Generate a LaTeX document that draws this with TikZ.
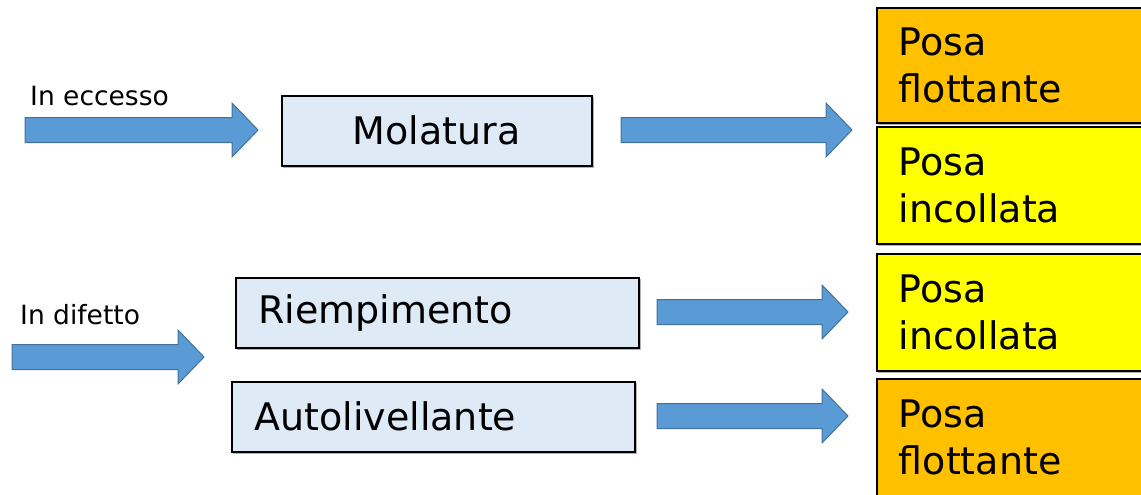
\documentclass[tikz,border=0pt]{standalone}
\usepackage{fontspec}
\setmainfont{DejaVu Sans}
\usetikzlibrary{calc}
\definecolor{arrfill}{HTML}{5B9BD5}
\definecolor{arrdraw}{HTML}{41719C}
\definecolor{boxblue}{HTML}{DEEBF7}
\definecolor{orangebox}{HTML}{FFC000}
\definecolor{yellowbox}{HTML}{FFFF00}
\tikzset{
  barrowstyle/.style={fill=arrfill, draw=arrdraw, line width=1pt, line join=miter},
  procbox/.style={draw=black, line width=1.6pt, fill=boxblue, rectangle, inner sep=0pt,
    font=\fontsize{38}{45}\selectfont, anchor=north west},
  outbox/.style={draw=black, line width=1.6pt, rectangle, inner xsep=22pt, inner ysep=0pt,
    font=\fontsize{38}{47}\selectfont, align=left, text width=246pt, anchor=north west,
    minimum width=290pt},
  smalltext/.style={font=\fontsize{26.5}{30}\selectfont, anchor=base west, inner sep=0pt},
  shadowed/.style={preaction={draw=black!30, line width=1.6pt, fill=black!30, transform canvas={shift={(1.5pt,-1.5pt)}}}}
}
% block arrow: from tail coordinate to tip coordinate (horizontal)
\newcommand\blockarrow[2]{%
  \path[barrowstyle] let \p1=(#1), \p2=(#2) in
    (\x1,\y1+12.5pt) -- (\x2-26pt,\y1+12.5pt) -- (\x2-26pt,\y1+27pt) -- (\x2,\y1)
    -- (\x2-26pt,\y1-27pt) -- (\x2-26pt,\y1-12.5pt) -- (\x1,\y1-12.5pt) -- cycle;}
\begin{document}
\begin{tikzpicture}[x=1pt,y=-1pt]
\useasboundingbox (0,0) rectangle (1141,495);
\clip (0,0) rectangle (1141,495);

% labels
\node[smalltext] (exc) at (30,106) {In eccesso};
\node[smalltext] (dif) at (20,324) {In difetto};

% process boxes
\node[procbox, shadowed, minimum width=310pt, minimum height=70pt] (mol) at (281,95) {Molatura};
\node[procbox, shadowed, minimum width=403pt, minimum height=70pt, align=left, text width=380pt] (rie) at (235,277) {\hspace*{11pt}Riempimento};
\node[procbox, shadowed, minimum width=403pt, minimum height=70pt, align=left, text width=380pt] (aut) at (231,381) {\hspace*{11pt}Autolivellante};

% output boxes
\node[outbox, shadowed, fill=orangebox, minimum height=115pt] (o1) at (876,7) {Posa\\flottante};
\node[outbox, shadowed, fill=yellowbox, minimum height=117pt] (o2) at (876,126) {Posa\\incollata};
\node[outbox, shadowed, fill=yellowbox, minimum height=117pt] (o3) at (876,253) {Posa\\incollata};
\node[outbox, shadowed, fill=orangebox, minimum height=117pt] (o4) at (876,378) {Posa\\flottante};

% arrow end points
\coordinate (a1s) at (25,130);  \coordinate (a1e) at (258,130);
\coordinate (a2s) at (621,130); \coordinate (a2e) at (852,130);
\coordinate (a3s) at (12,357);  \coordinate (a3e) at (204,357);
\coordinate (a4s) at (657,312); \coordinate (a4e) at (848,312);
\coordinate (a5s) at (657,416); \coordinate (a5e) at (848,416);

\blockarrow{a1s}{a1e}
\blockarrow{a2s}{a2e}
\blockarrow{a3s}{a3e}
\blockarrow{a4s}{a4e}
\blockarrow{a5s}{a5e}
\end{tikzpicture}
\end{document}
